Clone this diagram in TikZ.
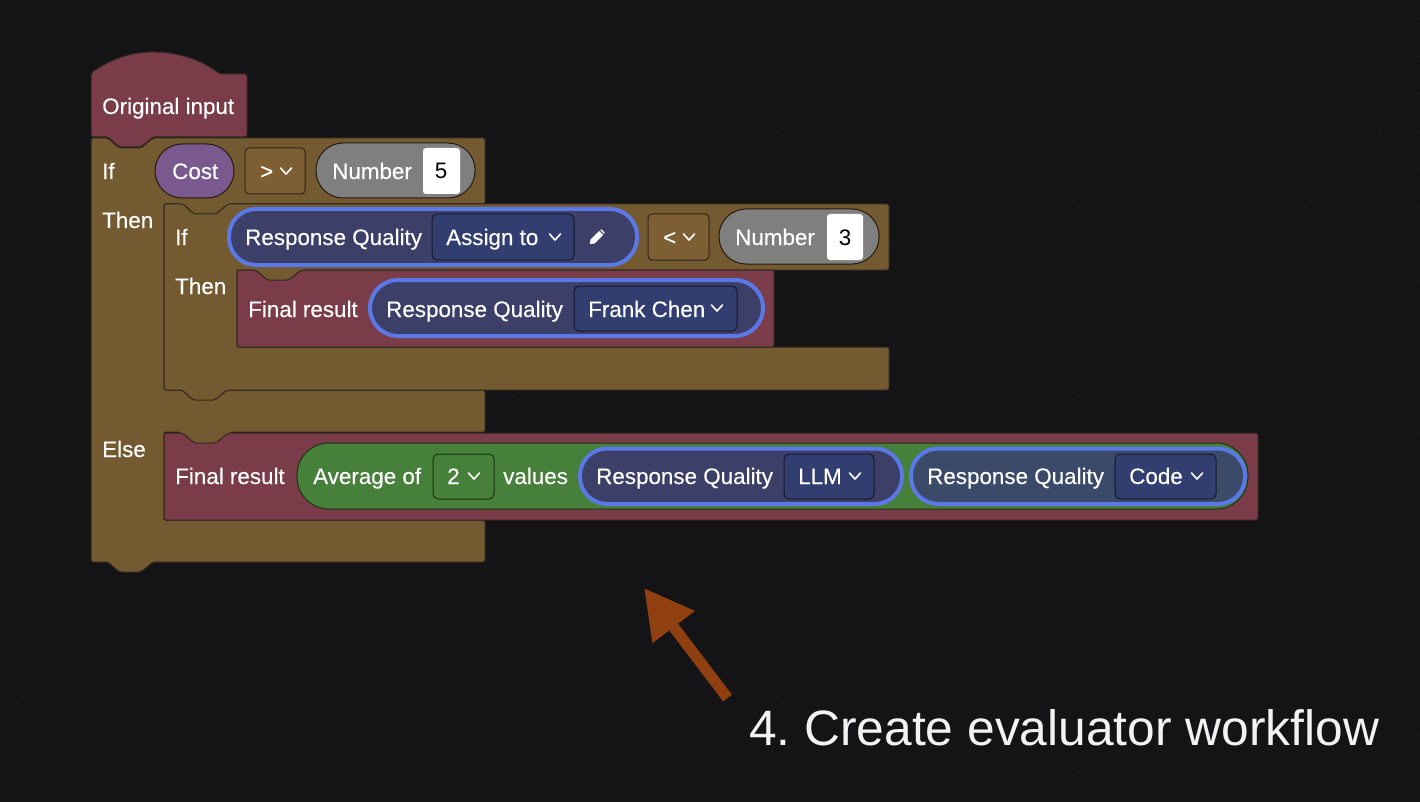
\documentclass[tikz,border=0pt]{standalone}
\usepackage{fontspec}
\setmainfont{Liberation Sans}
\newfontfamily\uifont[FakeBold=0.25]{Liberation Sans}
\usetikzlibrary{arrows.meta}
\definecolor{bgc}{HTML}{141417}
\definecolor{dotc}{HTML}{222327}
\definecolor{brownc}{HTML}{745A30}
\definecolor{brownl}{HTML}{7D5F33}
\definecolor{redc}{HTML}{7A3C48}
\definecolor{edgec}{HTML}{2E2620}
\definecolor{purplec}{HTML}{7A5A8E}
\definecolor{grayc}{HTML}{807F80}
\definecolor{greenc}{HTML}{47803A}
\definecolor{greenl}{HTML}{47803A}
\definecolor{qualc}{HTML}{3C3F68}
\definecolor{qualg}{HTML}{3C4A6A}
\definecolor{ddc}{HTML}{333E70}
\definecolor{bluec}{HTML}{5A78E6}
\definecolor{arrowc}{HTML}{8F3F10}
\def\notchdown{-- ++(11,10) -- ++(22,0) -- ++(12,-10)}
\def\notchback{-- ++(-12,10) -- ++(-22,0) -- ++(-11,-10)}
\newcommand{\chevmark}[2]{\draw[chevstyle] (#1-5.5,#2-3) -- (#1,#2+3) -- (#1+5.5,#2-3);}
\tikzset{
  blockbrown/.style={fill=brownc,draw=edgec,line width=1pt,rounded corners=2pt},
  blockred/.style={fill=redc,draw=edgec,line width=1pt,rounded corners=2pt},
  ddbrown/.style={fill=brownl,draw=edgec,line width=1pt,rounded corners=4pt},
  ddblue/.style={fill=ddc,draw=black!60!ddc,line width=1pt,rounded corners=5pt},
  ddgreen/.style={fill=greenl,draw=black!60!greenl,line width=1pt,rounded corners=5pt},
  pilledge/.style={draw=black!70!brownc,line width=1pt},
  bluepill/.style={draw=bluec,line width=4pt},
  label/.style={anchor=base west,inner sep=0pt,text=white,font=\uifont\fontsize{22.4}{26}\selectfont},
  digit/.style={anchor=base,inner sep=0pt,text=black,font=\fontsize{22.4}{26}\selectfont},
  headline/.style={anchor=base west,inner sep=0pt,text=white!95!black,font=\fontsize{49.7}{56}\selectfont},
  chevstyle/.style={draw=white,line width=1.6pt,line cap=round,line join=round},
}
\begin{document}
\frenchspacing
\begin{tikzpicture}[x=1pt,y=-1pt]
\useasboundingbox (0,0) rectangle (1420,802);
\fill[bgc] (0,0) rectangle (1420,802);
% faint canvas dots
\foreach \i in {0,...,37}{\foreach \j in {0,...,21}{
  \fill[dotc] ({23+37.7*\i},{18.5+37.7*\j}) circle (0.9);
}}
% outer if block
\draw[blockbrown] (91,170) -- (91,138) -- (108,138) \notchdown -- (485,138) -- (485,204) -- (164,204) -- (164,390) -- (485,390) -- (485,432) -- (164,432) -- (164,520) -- (485,520) -- (485,562) -- (153,562) \notchback -- (91,562) -- cycle;
% brown behind the dents of the blocks
\fill[brownc] (180,200) rectangle (231,216);
\fill[brownc] (253,266) rectangle (304,282);
\fill[brownc] (180,429) rectangle (231,445);
% original input
\draw[fill=redc,draw=edgec,line width=1pt,rounded corners=2pt] (91,100) -- (91,73) .. controls (110,59) and (132,52) .. (153,52) .. controls (178,52) and (202,60) .. (220,74) -- (247,74) -- (247,137) -- (153,137) \notchback -- (91,137) -- cycle;
% inner if block
\draw[blockbrown] (164,240) -- (164,204) -- (183,204) \notchdown -- (889,204) -- (889,270) -- (237,270) -- (237,347) -- (889,347) -- (889,390) -- (227,390) \notchback -- (164,390) -- cycle;
% brown behind the dent of the inner final result
\fill[brownc] (253,266) rectangle (304,282);
% final result blocks
\draw[blockred] (237,310) -- (237,270) -- (256,270) \notchdown -- (774,270) -- (774,347) -- (237,347) -- cycle;
\draw[blockred] (164,480) -- (164,433) -- (183,433) \notchdown -- (1258,433) -- (1258,520) -- (164,520) -- cycle;
% first row
\draw[pilledge,fill=purplec,rounded corners=27pt] (155,144) rectangle (234,198);
\draw[ddbrown] (245,148) rectangle (305,194);
\draw[pilledge,fill=grayc,rounded corners=27pt] (316,143) rectangle (475,198);
\fill[white,rounded corners=3pt] (423,148) rectangle (460,194);
% inner row
\draw[bluepill,fill=qualc,rounded corners=27pt] (229,209) rectangle (637,265);
\draw[ddblue] (432,214) rectangle (574,260);
\draw[ddbrown] (648,214) rectangle (709,260);
\draw[pilledge,fill=grayc,rounded corners=27pt] (719,209) rectangle (879,264);
\fill[white,rounded corners=3pt] (827,214) rectangle (863,260);
\fill[white] (590,244) -- (590.5,239.5) -- (599,231) -- (603,235) -- (594.5,243.5) -- cycle;
\fill[white] (600,230) -- (601.5,229.5) -- (604.5,232.5) -- (604,234) -- cycle;
% final result pill
\draw[bluepill,fill=qualc,rounded corners=28pt] (370,280) rectangle (763,336);
\draw[ddblue] (574,286) rectangle (737,331);
% else row
\draw[draw=black!60!greenc,line width=1pt,fill=greenc,rounded corners=32pt] (297,443) rectangle (1248,509);
\draw[ddgreen] (433,454) rectangle (494,499);
\draw[bluepill,fill=qualc,rounded corners=27pt] (580,448.5) rectangle (902,504);
\draw[ddblue] (784,454) rectangle (874,499);
\draw[bluepill,fill=qualg,rounded corners=27pt] (911,448.5) rectangle (1245,504);
\draw[ddblue] (1115,454) rectangle (1216,499);
% chevrons
\chevmark{286}{171}
\chevmark{555}{237}
\chevmark{689}{237}
\chevmark{717}{308}
\chevmark{474}{476}
\chevmark{855}{476}
\chevmark{1197}{476}
% labels
\node[label] (orig) at (102,114) {Original input};
\node[label] (ifa) at (102,179) {If};
\node[label] (thena) at (102,228) {Then};
\node[label] (elsea) at (102,457) {Else};
\node[label] (cost) at (172,179) {Cost};
\node[label] (gt) at (260,179) {>};
\node[label] (numa) at (332,179) {Number};
\node[digit] (five) at (441,179) {5};
\node[label] (ifb) at (175,245) {If};
\node[label] (thenb) at (175,294) {Then};
\node[label] (rqa) at (245,245) {Response Quality};
\node[label] (assign) at (446,245) {Assign to};
\node[label] (lt) at (663,245) {<};
\node[label] (numb) at (735,245) {Number};
\node[digit] (three) at (845,245) {3};
\node[label] (fra) at (248,317) {Final result};
\node[label] (rqb) at (386,317) {Response Quality};
\node[label] (frank) at (588,317) {Frank Chen};
\node[label] (frb) at (175,484) {Final result};
\node[label] (avg) at (313,484) {Average of};
\node[label] (two) at (447,484) {2};
\node[label] (vals) at (503,484) {values};
\node[label] (rqc) at (596,484) {Response Quality};
\node[label] (llm) at (798,484) {LLM};
\node[label] (rqd) at (927,484) {Response Quality};
\node[label] (code) at (1129,484) {Code};
% annotation
\node[headline] (caption) at (749,745) {4. Create evaluator workflow};
\coordinate (arrowtail) at (727.5,698);
\coordinate (arrowtip) at (644,588);
\draw[arrowc,line width=11pt,-{Triangle[length=49pt,width=50pt]}] (arrowtail) -- (arrowtip);
\end{tikzpicture}
\end{document}
